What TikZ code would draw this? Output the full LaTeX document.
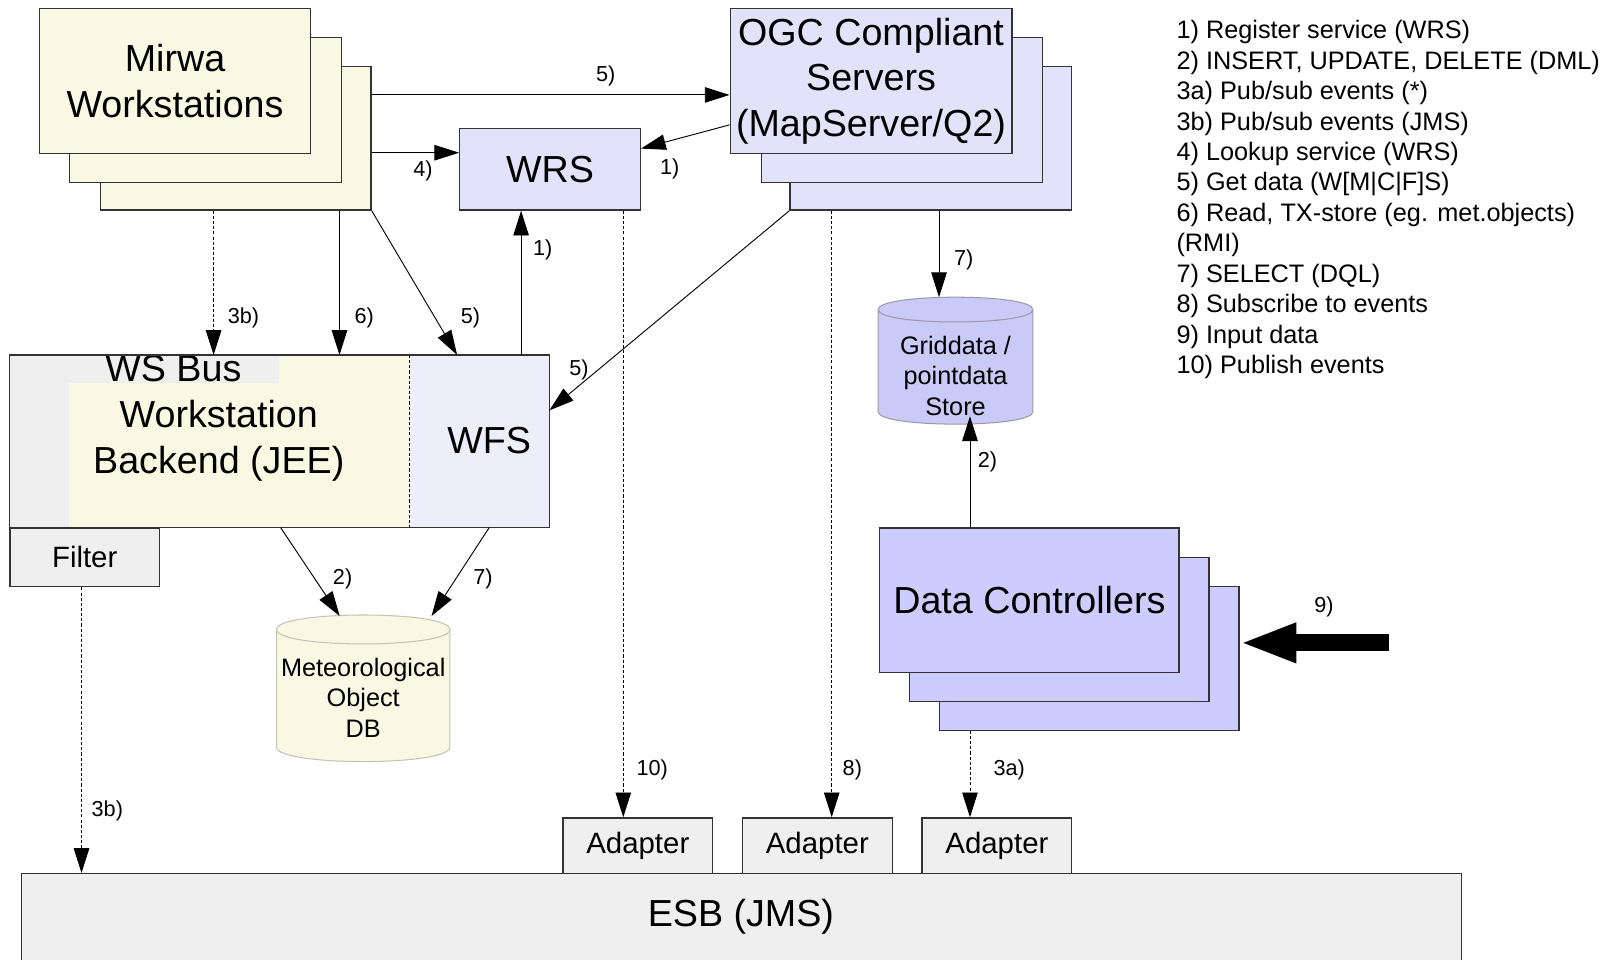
\documentclass[tikz,border=0pt]{standalone}
\usepackage{fontspec}
\setmainfont{Liberation Sans}
\usetikzlibrary{arrows.meta,calc}
\definecolor{cream}{HTML}{F8F8E3}
\definecolor{lav}{HTML}{E2E2FA}
\definecolor{wfsc}{HTML}{EEEEFB}
\definecolor{dcc}{HTML}{CCCCFE}
\definecolor{gridc}{HTML}{CACAF8}
\definecolor{grayf}{HTML}{EFEFEF}
\definecolor{bordc}{HTML}{333333}
\definecolor{cylb}{HTML}{9A9AA8}
\definecolor{metb}{HTML}{C4C4B4}
\begin{document}
\begin{tikzpicture}[x=1pt,y=-1pt,
  box/.style={draw=bordc, line width=1.2pt, inner sep=0pt, anchor=north west},
  arr/.style={draw=black, line width=0.9pt, -{Triangle[length=24pt,width=15pt]}},
  dsh/.style={arr, dash pattern=on 3pt off 2pt},
  lbl/.style={font=\fontsize{21}{25}\selectfont, inner sep=0pt},
  big/.style={font=\fontsize{36.5}{44}\selectfont, align=center, inner sep=0pt},
  mid/.style={font=\fontsize{28.5}{32}\selectfont, align=center, inner sep=0pt},
  sml/.style={font=\fontsize{24.5}{29.5}\selectfont, align=center, inner sep=0pt},
  leg/.style={font=\fontsize{24.5}{29.5}\selectfont, inner sep=0pt, anchor=base west}
]
\useasboundingbox (0,0) rectangle (1568,930);

% ESB and adapters
\node[box, fill=grayf, minimum width=1396, minimum height=110] (esb) at (20,846) {};
\node[big] (esbtxt) at (718,888) {ESB (JMS)};
\node[box, fill=grayf, minimum width=145, minimum height=54, mid] (ad1) at (545,792) {Adapter};
\node[box, fill=grayf, minimum width=145, minimum height=54, mid] (ad2) at (719,792) {Adapter};
\node[box, fill=grayf, minimum width=145, minimum height=54, mid] (ad3) at (893,792) {Adapter};

% Mirwa workstations
\node[box, fill=cream, minimum width=262, minimum height=139] (mirwa3) at (97,64) {};
\node[box, fill=cream, minimum width=263, minimum height=140] (mirwa2) at (67,36) {};
\node[box, fill=cream, minimum width=262, minimum height=140, big] (mirwa1) at (38,8) {Mirwa\\Workstations};

% OGC servers
\node[box, fill=lav, minimum width=273, minimum height=139] (ogc3) at (765,64) {};
\node[box, fill=lav, minimum width=273, minimum height=140] (ogc2) at (737,36) {};
\node[box, fill=lav, minimum width=273, minimum height=140, big] (ogc1) at (707,8) {OGC Compliant\\Servers\\(MapServer/Q2)};

% WRS
\node[box, fill=lav, minimum width=175, minimum height=79, big] (wrs) at (445,124) {WRS};

% Data controllers
\node[box, fill=dcc, minimum width=290, minimum height=139] (dc3) at (910,568) {};
\node[box, fill=dcc, minimum width=290, minimum height=139] (dc2) at (881,540) {};
\node[box, fill=dcc, minimum width=290, minimum height=140, big] (dc1) at (852,511) {Data Controllers};

% Griddata cylinder
\node[anchor=north west, minimum width=150, minimum height=123, inner sep=0pt] (grid) at (851,288) {};
\draw[fill=gridc, draw=cylb, line width=1pt] (851,300) -- (851,399) .. controls (851,415) and (1001,415) .. (1001,399) -- (1001,300) .. controls (1001,284) and (851,284) .. (851,300) -- cycle;
\draw[draw=cylb, line width=1pt] (851,300) .. controls (851,316) and (1001,316) .. (1001,300);
\node[sml] (gridtxt) at (926,364) {Griddata /\\pointdata\\Store};

% Meteorological object DB cylinder
\node[anchor=north west, minimum width=168, minimum height=142, inner sep=0pt] (met) at (268,596) {};
\draw[fill=cream, draw=metb, line width=1pt] (268,610) -- (268,724) .. controls (268,742.7) and (436,742.7) .. (436,724) -- (436,610) .. controls (436,591.3) and (268,591.3) .. (268,610) -- cycle;
\draw[draw=metb, line width=1pt] (268,610) .. controls (268,628.7) and (436,628.7) .. (436,610);
\node[sml] (mettxt) at (352,676) {Meteorological\\Object\\DB};

% WS Bus / Workstation backend / WFS
\node[anchor=north west, fill=grayf, minimum width=523, minimum height=167, inner sep=0pt] (wsbus) at (9,344) {};
\node[anchor=north west, fill=cream, minimum width=330, minimum height=167, inner sep=0pt] (wsbe) at (67,344) {};
\node[anchor=north west, fill=wfsc, minimum width=135, minimum height=167, inner sep=0pt] (wfs) at (397,344) {};
\node[anchor=north west, fill=grayf, minimum width=261, minimum height=27, inner sep=0pt] (wslbl) at (9,344) {};
\node[big, anchor=base] (wsbustxt) at (168,370) {WS Bus};
\node[big] (wsbetxt) at (212,427) {Workstation\\Backend (JEE)};
\node[big] (wfstxt) at (474,427) {WFS};
\draw[black, line width=0.9pt, dash pattern=on 3pt off 2pt] (wfs.north west) -- (wfs.south west);
\draw[bordc, line width=1.2pt] (wsbus.north west) rectangle (wsbus.south east);

% Filter
\node[box, fill=grayf, minimum width=145, minimum height=57, mid] (filter) at (9,511) {Filter};

% Connectors
\draw[arr] ([yshift=-28]mirwa3.north east) -- ([yshift=-28]mirwa3.north east -| ogc1.west);
\node[lbl] (l5a) at (587,74) {5)};
\draw[arr] ([yshift=-84]mirwa3.north east) -- ([yshift=-84]mirwa3.north east -| wrs.west);
\node[lbl] (l4) at (410,166) {4)};
\draw[arr] ([yshift=-113]ogc1.north west) -- ([yshift=-20]wrs.north east);
\node[lbl] (l1a) at (649,164) {1)};
\draw[arr] ([xshift=60]wrs.south west |- wsbus.north) -- ([xshift=60]wrs.south west);
\node[lbl] (l1b) at (526,242) {1)};
\draw[dsh] ([xshift=110]mirwa3.south west) -- ([xshift=110]mirwa3.south west |- wsbus.north);
\node[lbl] (l3b) at (236,308) {3b)};
\draw[arr] ([xshift=232]mirwa3.south west) -- ([xshift=232]mirwa3.south west |- wsbus.north);
\node[lbl] (l6) at (353,308) {6)};
\draw[arr] (mirwa3.south east) -- ([xshift=434]wsbus.north west);
\node[lbl] (l5b) at (456,308) {5)};
\draw[arr] (ogc3.south west) -- ([yshift=30]wsbus.east);
\node[lbl] (l5c) at (561,358) {5)};
\draw[dsh] ([xshift=159]wrs.south west) -- ([xshift=159]wrs.south west |- ad1.north);
\node[lbl] (l10) at (632,746) {10)};
\draw[dsh] ([xshift=41]ogc3.south west) -- ([xshift=41]ogc3.south west |- ad2.north);
\node[lbl] (l8) at (826,746) {8)};
\draw[arr] ([xshift=145]ogc3.south west) -- ([xshift=145]ogc3.south west |- grid.north);
\node[lbl] (l7a) at (934,252) {7)};
\draw[arr] ([xshift=88]dc1.north west) -- ($([xshift=88]dc1.north west |- grid.south)+(0,-8)$);
\node[lbl] (l2a) at (957,448) {2)};
\draw[dsh] ([xshift=30]dc3.south west) -- ([xshift=30]dc3.south west |- ad3.north);
\node[lbl] (l3a) at (978,746) {3a)};
\draw[arr] ([xshift=263]wsbus.south west) -- ([xshift=-23,yshift=-1]met.north);
\node[lbl] (l2b) at (332,561) {2)};
\draw[arr] ([xshift=465]wsbus.south west) -- ([xshift=66,yshift=-1]met.north);
\node[lbl] (l7b) at (468,561) {7)};
\draw[dsh] ([xshift=70]filter.south west) -- ([xshift=70]filter.south west |- esb.north);
\node[lbl] (l3c) at (104,786) {3b)};
\coordinate (in9) at (1346,623);
\draw[line width=16.5pt, -{Triangle[length=55pt,width=35pt]}] (in9) -- (in9 -| dc3.east);
\node[lbl] (l9) at (1283,588) {9)};

% Legend
\foreach \t [count=\i] in {1) Register service (WRS), {2) INSERT, UPDATE, DELETE (DML)}, 3a) Pub/sub events (*), 3b) Pub/sub events (JMS), 4) Lookup service (WRS), {5) Get data (W[M|C|F]S)}, {6) Read, TX-store (eg. met.objects)}, (RMI), 7) SELECT (DQL), 8) Subscribe to events, 9) Input data, 10) Publish events}
  \node[leg] (leg\i) at (1140,{8+29.5*\i}) {\t};
\end{tikzpicture}
\end{document}
